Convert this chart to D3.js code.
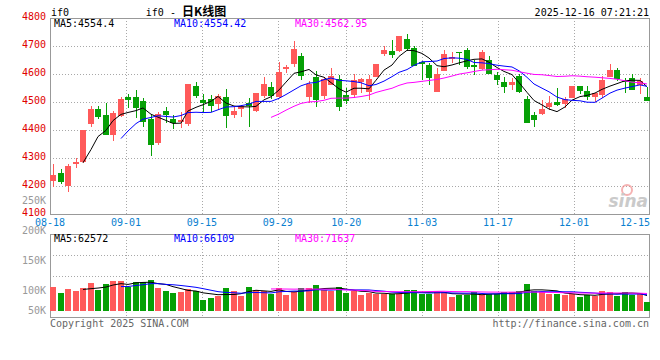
<!DOCTYPE html>
<html>
<head>
<meta charset="utf-8">
<script src="https://cdn.jsdelivr.net/npm/d3@7"></script>
<style>
  body { margin: 0; background: #fff; }
  text { font-family: "DejaVu Sans Mono", monospace; font-size: 10px; }
</style>
</head>
<body>
<div id="chart"></div>
<script>
// trading days shown on the chart
const dates = [
  "08-18","08-19","08-20","08-21","08-22","08-25","08-26","08-27","08-28","08-29",
  "09-01","09-02","09-03","09-04","09-05","09-08","09-09","09-10","09-11","09-12",
  "09-15","09-16","09-17","09-18","09-19","09-22","09-23","09-24","09-25","09-26",
  "09-29","09-30","10-09","10-10","10-13","10-14","10-15","10-16","10-17","10-20",
  "10-21","10-22","10-23","10-24","10-27","10-28","10-29","10-30","10-31","11-03",
  "11-04","11-05","11-06","11-07","11-10","11-11","11-12","11-13","11-14","11-17",
  "11-18","11-19","11-20","11-21","11-24","11-25","11-26","11-27","11-28","12-01",
  "12-02","12-03","12-04","12-05","12-08","12-09","12-10","12-11","12-12","12-15"
];
const open = [
  4219,4248,4203,4281,4283,4423,4476,4454,4385,4450,
  4519,4519,4505,4441,4353,4467,4440,4430,4423,4558,
  4508,4512,4495,4517,4456,4475,4495,4470,4524,4555,
  4518,4617,4638,4665,4519,4591,4523,4563,4583,4526,
  4527,4574,4536,4591,4674,4683,4682,4726,4694,4643,
  4633,4538,4613,4655,4677,4686,4633,4619,4651,4598,
  4573,4558,4594,4512,4455,4458,4485,4501,4493,4515,
  4558,4541,4519,4524,4591,4614,4575,4586,4561,4517
];
const high = [
  4280,4262,4278,4300,4400,4486,4486,4497,4469,4518,
  4530,4544,4513,4455,4465,4483,4452,4466,4566,4570,
  4530,4526,4530,4548,4482,4489,4516,4533,4589,4573,
  4644,4633,4719,4676,4575,4612,4591,4623,4596,4551,
  4601,4585,4595,4637,4701,4723,4737,4744,4700,4646,
  4640,4623,4685,4680,4680,4694,4651,4686,4665,4607,
  4589,4587,4599,4521,4464,4508,4523,4551,4518,4557,
  4558,4558,4533,4593,4637,4623,4587,4601,4585,4553
];
const low = [
  4195,4208,4178,4263,4282,4412,4438,4381,4360,4447,
  4480,4444,4410,4306,4347,4424,4402,4406,4413,4516,
  4464,4466,4470,4406,4442,4448,4410,4464,4516,4512,
  4513,4602,4626,4577,4498,4481,4510,4561,4469,4492,
  4513,4533,4506,4591,4663,4658,4680,4681,4629,4577,
  4561,4538,4610,4639,4632,4619,4595,4614,4599,4560,
  4531,4544,4533,4427,4409,4454,4472,4485,4480,4515,
  4527,4506,4501,4516,4591,4574,4531,4543,4527,4502
];
const close = [
  4241,4216,4273,4287,4399,4476,4448,4383,4462,4510,
  4510,4481,4431,4349,4458,4452,4427,4437,4566,4523,
  4499,4488,4523,4449,4469,4487,4484,4533,4566,4524,
  4608,4624,4690,4593,4566,4510,4583,4594,4483,4506,
  4580,4583,4583,4637,4687,4670,4737,4692,4631,4637,
  4588,4601,4673,4662,4674,4626,4627,4680,4602,4581,
  4556,4570,4538,4427,4436,4476,4498,4491,4511,4557,
  4539,4520,4533,4577,4615,4583,4571,4543,4574,4502
];
const volume = [
  99500,74300,91100,82700,95300,116300,86900,112100,124700,124700,
  99500,120500,120500,128900,95300,82700,74300,79800,91100,82700,
  44900,53300,61700,95300,82700,61700,99500,86900,82700,71400,
  95300,65900,77300,95300,95300,107900,86900,82700,99500,74300,
  82700,65900,74300,70100,70100,70100,70100,86900,86900,70100,
  70100,78500,78500,57500,65900,65900,78500,65900,70100,70100,
  78500,78500,82700,112100,82700,78500,70100,70100,65900,70100,
  57500,65900,61700,84000,79800,61700,78500,64700,74300,36500
];

const priceTicks = [4800, 4700, 4600, 4500, 4400, 4300, 4200, 4100];
const volTicks = [250000, 200000, 150000, 100000, 50000];
const volTickLabels = ["250K", "200K", "150K", "100K", "50K"];
const dateTicks = ["08-18", "09-01", "09-15", "09-29", "10-20", "11-03", "11-17", "12-01", "12-15"];
const maPeriods = [5, 10, 30];
const maColors = ["#000000", "#0000ff", "#ff00ff"];
const priceLegend = ["MA5:4554.4", "MA10:4554.42", "MA30:4562.95"];
const volLegend = ["MA5:62572", "MA10:66109", "MA30:71637"];

function drawChart() {
  const w = 660, h = 360;
  const left = 50, right = 650;
  const main = {top: 18, bottom: 214};
  const vol = {top: 234, bottom: 317};
  const red = "#ff5a5a", green = "#06a006";
  const gridColor = "#a8a8a8", borderColor = "#999";

  const candles = dates.map((d, i) => ({date: d, o: open[i], h: high[i], l: low[i], c: close[i], v: volume[i]}));

  const x = d3.scaleBand()
    .domain(dates)
    .range([left, right])
    .paddingInner(0.24);
  const xt = d3.scalePoint()   // date ticks / grid
    .domain(dates)
    .range([left, right]);

  const y = d3.scaleLinear().domain([4100, 4800]).range([main.bottom, main.top]);
  const yv = d3.scaleLinear().domain([0, 320000]).range([310.7, vol.top]);
  // sina draws the volume tick labels on their own uneven spacing
  const yvLabel = d3.scaleLinear().domain([50000, 100000, 250000]).range([314, 294, 203.5]);

  const bw = Math.round(x.bandwidth());
  const bx = d => Math.round(x(d));
  const cx = d => bx(d) + bw / 2;
  const crisp = v => Math.round(v) + 0.5;

  const svg = d3.select("#chart").append("svg")
    .attr("width", w)
    .attr("height", h);

  // ---- grids ----
  const grid = svg.append("g")
    .attr("stroke", gridColor)
    .attr("stroke-dasharray", "1,2")
    .attr("shape-rendering", "crispEdges");

  grid.selectAll(".hgrid")
    .data(priceTicks.slice(1, -1))
    .join("line")
      .attr("x1", left).attr("x2", right)
      .attr("y1", d => crisp(y(d))).attr("y2", d => crisp(y(d)));

  const vGridTicks = dateTicks.filter(d => xt(d) > left + 1 && xt(d) < right - 2);
  [main, vol].forEach(p => {
    grid.append("g").selectAll("line")
      .data(vGridTicks)
      .join("line")
        .attr("x1", d => crisp(xt(d))).attr("x2", d => crisp(xt(d)))
        .attr("y1", p.top).attr("y2", p.bottom);
  });
  [0.25, 0.5].forEach(f => {
    const yy = crisp(vol.top + (vol.bottom - vol.top) * f);
    grid.append("line").attr("x1", left).attr("x2", right).attr("y1", yy).attr("y2", yy);
  });

  // ---- borders ----
  [main, vol].forEach(p => {
    svg.append("rect")
      .attr("x", left + 0.5).attr("y", p.top + 0.5)
      .attr("width", right - left - 1).attr("height", p.bottom - p.top)
      .attr("fill", "none")
      .attr("stroke", borderColor)
      .attr("shape-rendering", "crispEdges");
  });

  // ---- watermark ----
  const wm = svg.append("g").attr("opacity", 0.6);
  wm.append("circle").attr("cx", 627).attr("cy", 190).attr("r", 5)
    .attr("fill", "none").attr("stroke", "#f08080").attr("stroke-width", 2);
  wm.append("text").attr("x", 648).attr("y", 207).attr("text-anchor", "end")
    .style("font-family", "'DejaVu Sans', sans-serif").style("font-size", "17px")
    .style("font-style", "italic").style("font-weight", "bold")
    .attr("fill", "#a8a8a8").text("sina");

  // ---- candles ----
  const cg = svg.append("g").attr("shape-rendering", "crispEdges");
  cg.selectAll(".wick")
    .data(candles)
    .join("line")
      .attr("x1", d => cx(d.date)).attr("x2", d => cx(d.date))
      .attr("y1", d => y(d.h)).attr("y2", d => y(d.l))
      .attr("stroke", d => d.c >= d.o ? red : green);
  cg.selectAll(".body")
    .data(candles)
    .join("rect")
      .attr("x", d => bx(d.date))
      .attr("width", bw)
      .attr("y", d => Math.round(y(Math.max(d.o, d.c))))
      .attr("height", d => Math.max(1, Math.round(Math.abs(y(d.o) - y(d.c)))))
      .attr("fill", d => d.c >= d.o ? red : green);

  // ---- volume bars ----
  svg.append("g").attr("shape-rendering", "crispEdges")
    .selectAll("rect")
    .data(candles)
    .join("rect")
      .attr("x", d => bx(d.date))
      .attr("width", bw)
      .attr("y", d => Math.round(yv(d.v)))
      .attr("height", d => Math.round(yv(0)) - Math.round(yv(d.v)))
      .attr("fill", d => d.c >= d.o ? red : green);

  // ---- moving averages ----
  function movingAvg(arr, n) {
    return arr.map((v, i) => i < n - 1 ? null : d3.mean(arr.slice(i - n + 1, i + 1)));
  }
  maPeriods.forEach((n, k) => {
    const pm = movingAvg(close, n);
    const vm = movingAvg(volume, n);
    const line = sc => d3.line()
      .defined(d => d[1] != null)
      .x(d => cx(d[0]))
      .y(d => sc(d[1]));
    svg.append("path")
      .datum(dates.map((d, i) => [d, pm[i]]))
      .attr("d", line(y))
      .attr("fill", "none").attr("stroke", maColors[k]).attr("stroke-width", 1);
    svg.append("path")
      .datum(dates.map((d, i) => [d, vm[i]]))
      .attr("d", line(yv))
      .attr("fill", "none").attr("stroke", maColors[k]).attr("stroke-width", 1);
  });

  // ---- axes labels ----
  svg.append("g").selectAll("text")
    .data(volTicks)
    .join("text")
      .attr("x", 46).attr("y", d => yvLabel(d))
      .attr("text-anchor", "end")
      .attr("fill", "#999")
      .text((d, i) => volTickLabels[i]);

  svg.append("g").selectAll("text")
    .data(priceTicks)
    .join("text")
      .attr("x", 46).attr("y", d => y(d) + 1.5)
      .attr("text-anchor", "end")
      .attr("fill", "#e00000")
      .text(d => d);

  svg.append("g").selectAll("text")
    .data(dateTicks)
    .join("text")
      .attr("x", d => xt(d) + 15 > right ? right : xt(d))
      .attr("y", 225.5)
      .attr("text-anchor", d => xt(d) + 15 > right ? "end" : "middle")
      .attr("fill", "#0a7fd0")
      .text(d => d);

  // ---- legends ----
  const legendX = [54, 174, 295];
  priceLegend.forEach((t, k) => {
    svg.append("text").attr("x", legendX[k]).attr("y", 27).attr("fill", maColors[k]).text(t);
  });
  volLegend.forEach((t, k) => {
    svg.append("text").attr("x", legendX[k]).attr("y", 242).attr("fill", maColors[k]).text(t);
  });

  // ---- header / footer ----
  svg.append("text").attr("x", 51).attr("y", 15.5).text("if0");
  const title = svg.append("text").attr("x", 186).attr("y", 15.5).attr("text-anchor", "middle");
  title.append("tspan").text("if0 - ");
  title.append("tspan")
    .style("font-family", "'Noto Sans CJK SC', sans-serif")
    .style("font-size", "12px").style("font-weight", "bold")
    .text("日K线图");
  svg.append("text").attr("x", 649).attr("y", 15.5).attr("text-anchor", "end").text("2025-12-16 07:21:21");

  svg.append("text").attr("x", 50).attr("y", 327).attr("fill", "#666").text("Copyright 2025 SINA.COM");
  svg.append("text").attr("x", 649).attr("y", 327).attr("text-anchor", "end").attr("fill", "#666")
    .text("http://finance.sina.com.cn");
}

drawChart();
</script>
</body>
</html>
